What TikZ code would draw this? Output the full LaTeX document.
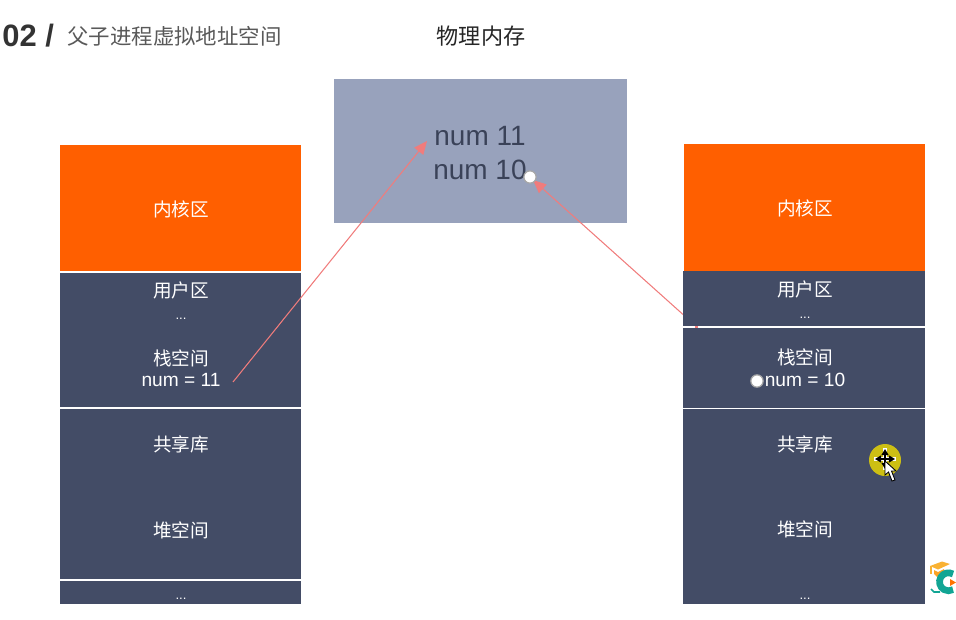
\documentclass[tikz,border=0pt]{standalone}
\usepackage{fontspec}
\setmainfont{Liberation Sans}
\newfontfamily\cjk{Noto Sans CJK SC}
\usetikzlibrary{arrows.meta}
\definecolor{slate}{HTML}{434C66}
\definecolor{memblue}{HTML}{98A2BC}
\definecolor{kernelorange}{HTML}{FF5F00}
\definecolor{ptrred}{HTML}{F07C7C}
\definecolor{inktext}{HTML}{3A4258}
\definecolor{cursorgold}{HTML}{CDBF14}
\definecolor{logoteal}{HTML}{12A594}
\definecolor{logogold}{HTML}{F9B233}

\begin{document}
\begin{tikzpicture}[x=0.02cm,y=-0.02cm,
    seg/.style={draw=none,fill=slate,minimum width=4.82cm,inner sep=0,outer sep=0},
    kern/.style={seg,fill=kernelorange,minimum height=2.54cm},
    lab/.style={text=white,font=\cjk\fontsize{10.6pt}{12pt}\selectfont,inner sep=0},
    numtxt/.style={text=white,font=\fontsize{10.9pt}{12pt}\selectfont,inner sep=0},
    dots/.style={text=white,font=\fontsize{7.5pt}{8pt}\selectfont,inner sep=0},
    sepline/.style={white,line width=0.6pt},
    ptr/.style={draw=ptrred,line width=0.6pt,-{Triangle[length=7.5pt,width=6.5pt,fill=ptrred]}},
    knob/.style={circle,fill=white,draw=gray!70,line width=0.7pt,inner sep=0,minimum size=7pt},
    moveptr/.style={{Triangle[length=3.5pt,width=4pt]}-{Triangle[length=3.5pt,width=4pt]}}]
    \useasboundingbox (0,0) rectangle (956,619);

    \node[inner sep=0,anchor=west,font=\bfseries\fontsize{17.6pt}{18pt}\selectfont,text=black!80] (num) at (2,36) {02 /};
    \node[inner sep=0,anchor=west,font=\cjk\fontsize{12.2pt}{14pt}\selectfont,text=black!65] (title) at (67,36) {父子进程虚拟地址空间};
    \node[inner sep=0,font=\cjk\fontsize{12.6pt}{14pt}\selectfont,text=black!85] (memtitle) at (481,36) {物理内存};

    % physical memory
    \node[seg,fill=memblue,minimum width=5.86cm,minimum height=2.88cm] (mem) at (480.5,151) {};
    \node[inner sep=0,text=inktext,font=\fontsize{15.9pt}{16pt}\selectfont] (numa) at (480,136) {num 11};
    \node[inner sep=0,text=inktext,font=\fontsize{15.9pt}{16pt}\selectfont] (numb) at (480,170) {num 10};
    \coordinate (tipa) at (427,141);
    \coordinate (tipb) at (533,180);
    \coordinate (startb) at (697,327);

    % right arrow runs behind the right column
    \draw[ptr] (startb) -- (tipb);

    % left process
    \node[kern] (lkern) at (180.5,208.5) {};
    \node[seg,minimum height=2.72cm] (luser) at (180.5,340) {};
    \node[seg,minimum height=3.44cm] (lshare) at (180.5,494) {};
    \node[seg,minimum height=0.48cm] (lrest) at (180.5,592) {};
    \draw[sepline] (luser.north west) -- (luser.north east);
    \draw[sepline] (lshare.north west) -- (lshare.north east);
    \draw[sepline] (lrest.north west) -- (lrest.north east);
    \node[lab] (la) at (181,209) {内核区};
    \node[lab] (lb) at (181,290) {用户区};
    \node[dots] (lc) at (181,319) {...};
    \node[lab] (ld) at (181,358) {栈空间};
    \node[numtxt] (le) at (181,380) {num = 11};
    \node[lab] (lf) at (181,444) {共享库};
    \node[lab] (lg) at (181,530) {堆空间};
    \node[dots] (lh) at (181,599) {...};
    \coordinate (starta) at (233,382);

    % right process
    \node[kern] (rkern) at (804.5,207.5) {};
    \node[seg,minimum width=4.84cm,minimum height=1.12cm] (ruser) at (804,299) {};
    \node[seg,minimum width=4.84cm,minimum height=1.62cm] (rstack) at (804,367.5) {};
    \node[seg,minimum width=4.84cm,minimum height=3.92cm] (rshare) at (804,506) {};
    \draw[sepline] (rstack.north west) -- (rstack.north east);
    \draw[sepline] (rshare.north west) -- (rshare.north east);
    \node[lab] (ra) at (805,208) {内核区};
    \node[lab] (rb) at (805,289) {用户区};
    \node[dots] (rc) at (805,318) {...};
    \node[lab] (rd) at (805,357) {栈空间};
    \node[numtxt] (re) at (805,380) {num = 10};
    \node[lab] (rf) at (805,444) {共享库};
    \node[lab] (rg) at (805,529) {堆空间};
    \node[dots] (rh) at (805,599) {...};

    \draw[ptrred,line width=0.6pt] (695,327) -- (698,327);
    \draw[ptr] (starta) -- (tipa);
    \node[knob] (ka) at (530,177) {};
    \node[knob] (kb) at (757,381) {};

    % cursor
    \fill[cursorgold] (885,460) circle (16);
    \draw[white,line width=2pt] (874,459) -- (896,459) (885,448) -- (885,470);
    \draw[black,line width=0.8pt,moveptr] (875,459) -- (895,459);
    \draw[black,line width=0.8pt,moveptr] (885,449) -- (885,469);
    \draw[black,fill=white,line width=0.5pt] (885,461) -- (885,475) -- (888.5,472) -- (892,481) -- (895,480) -- (891.5,471) -- (896,471) -- cycle;

    % logo
    \fill[logogold] (930,566) -- (942,561.5) -- (950,564) -- (938,569.5) -- cycle;
    \fill[logogold!70!orange] (934,570) -- (938,572) -- (944,569) -- (944,573) -- (937,577) -- (934,574) -- cycle;
    \draw[logogold,line width=0.8pt] (931,566) -- (931,574);
    \draw[logoteal,line width=3.8pt] (953,574) arc (-60:-300:9);
    \draw[logoteal,line width=1pt] (931,589) -- (934,592) -- (940,592);
    \fill[orange!90!red] (950,579) -- (956,582.5) -- (950,586) -- cycle;
\end{tikzpicture}
\end{document}
